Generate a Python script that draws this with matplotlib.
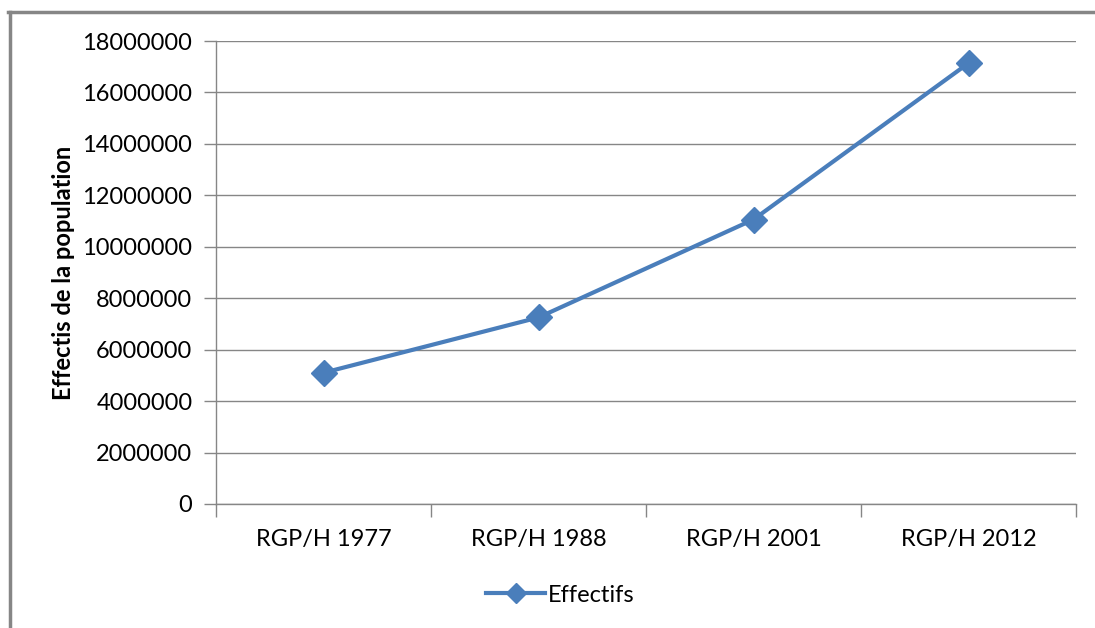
import matplotlib.pyplot as plt
from matplotlib.lines import Line2D

plt.rcParams["font.family"] = ["Lato", "DejaVu Sans"]

# Data
censuses = ["RGP/H 1977", "RGP/H 1988", "RGP/H 2001", "RGP/H 2012"]
effectifs = [5102990, 7251626, 11060291, 17138707]
y_ticks = list(range(0, 18000001, 2000000))

blue = "#4A7EBB"
grey = "#868686"
fs = 17

fig = plt.figure(figsize=(10.95, 6.28), dpi=100)
ax = fig.add_axes([216 / 1095, 1 - 504 / 628, 860 / 1095, 463 / 628])

x = list(range(len(censuses)))
ax.plot(x, effectifs, color=blue, lw=3, marker="D", markersize=13,
        label="Effectifs", zorder=3)

ax.set_xlim(-0.5, len(censuses) - 0.5)
ax.set_ylim(0, 18000000)
ax.set_yticks(y_ticks)
ax.set_yticklabels([str(v) for v in y_ticks], fontsize=fs)
ax.set_xticks(x)
ax.set_xticklabels(censuses, fontsize=fs)
ax.tick_params(axis="x", length=0, pad=18)
ax.tick_params(axis="y", length=9, width=1, color=grey, pad=8)

# category separators on x-axis
ax.set_xticks([i - 0.5 for i in range(len(censuses) + 1)], minor=True)
ax.tick_params(axis="x", which="minor", length=9, width=1, color=grey)

ax.grid(True, axis="y", color=grey, lw=1)
ax.set_axisbelow(True)
for side in ["top", "right"]:
    ax.spines[side].set_visible(False)
for side in ["left", "bottom"]:
    ax.spines[side].set_color(grey)
    ax.spines[side].set_linewidth(1)

ax.set_ylabel("Effectis de la population", fontsize=fs, fontweight="bold",
              labelpad=5)

leg = fig.legend(handles=[Line2D([0], [0], color=blue, lw=3, marker="D",
                                 markersize=10)],
                 labels=["Effectifs"], loc="center",
                 bbox_to_anchor=(560 / 1095, 1 - 595 / 628),
                 frameon=False, fontsize=fs, handlelength=2.5,
                 handletextpad=0.1)

# outer chart frame (only left and top edges are in view)
fig.add_artist(Line2D([9.5 / 1095, 9.5 / 1095], [0, 1 - 11.5 / 628],
                      color=grey, lw=2.5, transform=fig.transFigure))
fig.add_artist(Line2D([8 / 1095, 1], [1 - 11.5 / 628, 1 - 11.5 / 628],
                      color=grey, lw=2.5, transform=fig.transFigure))

fig.savefig("out.png", dpi=100)
